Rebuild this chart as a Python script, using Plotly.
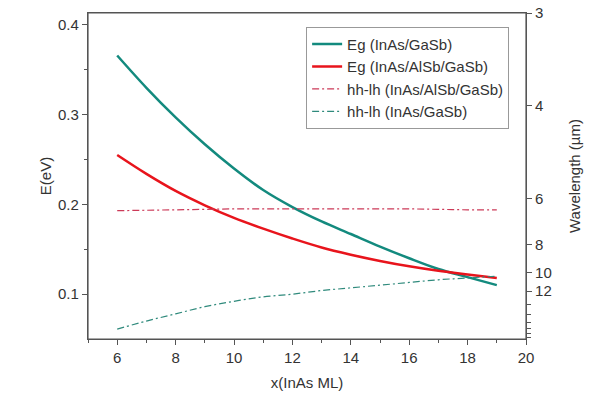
import plotly.graph_objects as go

x_ml = [6, 7, 8, 9, 10, 11, 12, 13, 14, 15, 16, 17, 18, 19]
eg_inas_gasb = [0.366, 0.330, 0.297, 0.267, 0.240, 0.216, 0.197, 0.181, 0.167, 0.153, 0.140, 0.128, 0.119, 0.110]
eg_inas_alsb_gasb = [0.255, 0.234, 0.215, 0.199, 0.185, 0.173, 0.162, 0.152, 0.144, 0.137, 0.131, 0.126, 0.122, 0.118]
hhlh_inas_alsb_gasb = [0.193, 0.1935, 0.194, 0.1945, 0.195, 0.195, 0.195, 0.195, 0.195, 0.195, 0.195, 0.1945, 0.194, 0.194]
hhlh_inas_gasb = [0.061, 0.070, 0.078, 0.086, 0.092, 0.097, 0.100, 0.104, 0.107, 0.110, 0.113, 0.116, 0.118, 0.120]

wl_major = [3, 4, 6, 8, 10, 12]
wl_minor = [14, 16, 18, 20, 22, 24]

y_range = [0.05, 1.24 / 3]

teal = "#138a7e"
red = "#e8141c"
red_dd = "#cc3a58"
teal_dd = "#2f8a7c"
axc = "#555555"
txt = "#333333"
font = "Liberation Sans, Arial, sans-serif"
dd = "7px,3px,2px,3px"

fig = go.Figure()
fig.add_trace(go.Scatter(x=x_ml, y=eg_inas_gasb, mode="lines", name="Eg (InAs/GaSb)",
                         line=dict(color=teal, width=2.5, shape="spline")))
fig.add_trace(go.Scatter(x=x_ml, y=eg_inas_alsb_gasb, mode="lines", name="Eg (InAs/AlSb/GaSb)",
                         line=dict(color=red, width=2.5, shape="spline")))
fig.add_trace(go.Scatter(x=x_ml, y=hhlh_inas_alsb_gasb, mode="lines", name="hh-lh (InAs/AlSb/GaSb)",
                         line=dict(color=red_dd, width=1.2, dash=dd, shape="spline")))
fig.add_trace(go.Scatter(x=x_ml, y=hhlh_inas_gasb, mode="lines", name="hh-lh (InAs/GaSb)",
                         line=dict(color=teal_dd, width=1.2, dash=dd, shape="spline")))
fig.add_trace(go.Scatter(x=[None], y=[None], yaxis="y2", showlegend=False, hoverinfo="skip"))

fig.update_layout(
    width=596, height=405,
    margin=dict(l=88, r=70, t=13, b=66, autoexpand=False),
    paper_bgcolor="white", plot_bgcolor="white",
    font=dict(family=font, size=15, color=txt),
    showlegend=True,
    legend=dict(x=0.498, y=0.958, xanchor="left", yanchor="top",
                bordercolor="#999999", borderwidth=1, bgcolor="white",
                font=dict(size=15, color=txt), tracegroupgap=0, itemwidth=30),
    shapes=[dict(type="rect", xref="paper", yref="paper", x0=0, x1=1, y0=0, y1=1,
                 line=dict(color=axc, width=1.2), fillcolor="rgba(0,0,0,0)", layer="above")],
    xaxis=dict(range=[5, 20], tickvals=[6, 8, 10, 12, 14, 16, 18, 20],
               ticks="outside", ticklen=5, tickcolor=axc, automargin=False,
               showline=True, linecolor=axc, linewidth=1.2, mirror=True,
               showgrid=False, zeroline=False, ticklabeloverflow="allow",
               minor=dict(ticks="outside", dtick=1, tick0=5, ticklen=3, tickcolor=axc),
               title=dict(text="x(InAs ML)", font=dict(size=15), standoff=12)),
    yaxis=dict(range=y_range, tickvals=[0.1, 0.2, 0.3, 0.4], ticktext=["0.1", "0.2", "0.3", "0.4"],
               ticks="outside", ticklen=5, tickcolor=axc, automargin=False,
               showline=True, linecolor=axc, linewidth=1.2,
               showgrid=False, zeroline=False, ticklabeloverflow="allow",
               minor=dict(ticks="outside", tickvals=[0.15, 0.25, 0.35], ticklen=3, tickcolor=axc),
               title=dict(text="E(eV)", font=dict(size=15), standoff=2)),
    yaxis2=dict(range=y_range, overlaying="y", side="right", automargin=False,
                tickvals=[1.24 / w for w in wl_major], ticktext=[str(w) for w in wl_major],
                ticks="outside", ticklen=5, tickcolor=axc, ticklabeloverflow="allow",
                showline=True, linecolor=axc, linewidth=1.2,
                showgrid=False, zeroline=False,
                minor=dict(ticks="outside", tickvals=[1.24 / w for w in wl_minor], ticklen=4, tickcolor=axc),
                title=dict(text="Wavelength (µm)", font=dict(size=15), standoff=18)),
)

fig.write_html("out.html", config={"displayModeBar": False},
               post_script="document.body.style.margin='0';")
